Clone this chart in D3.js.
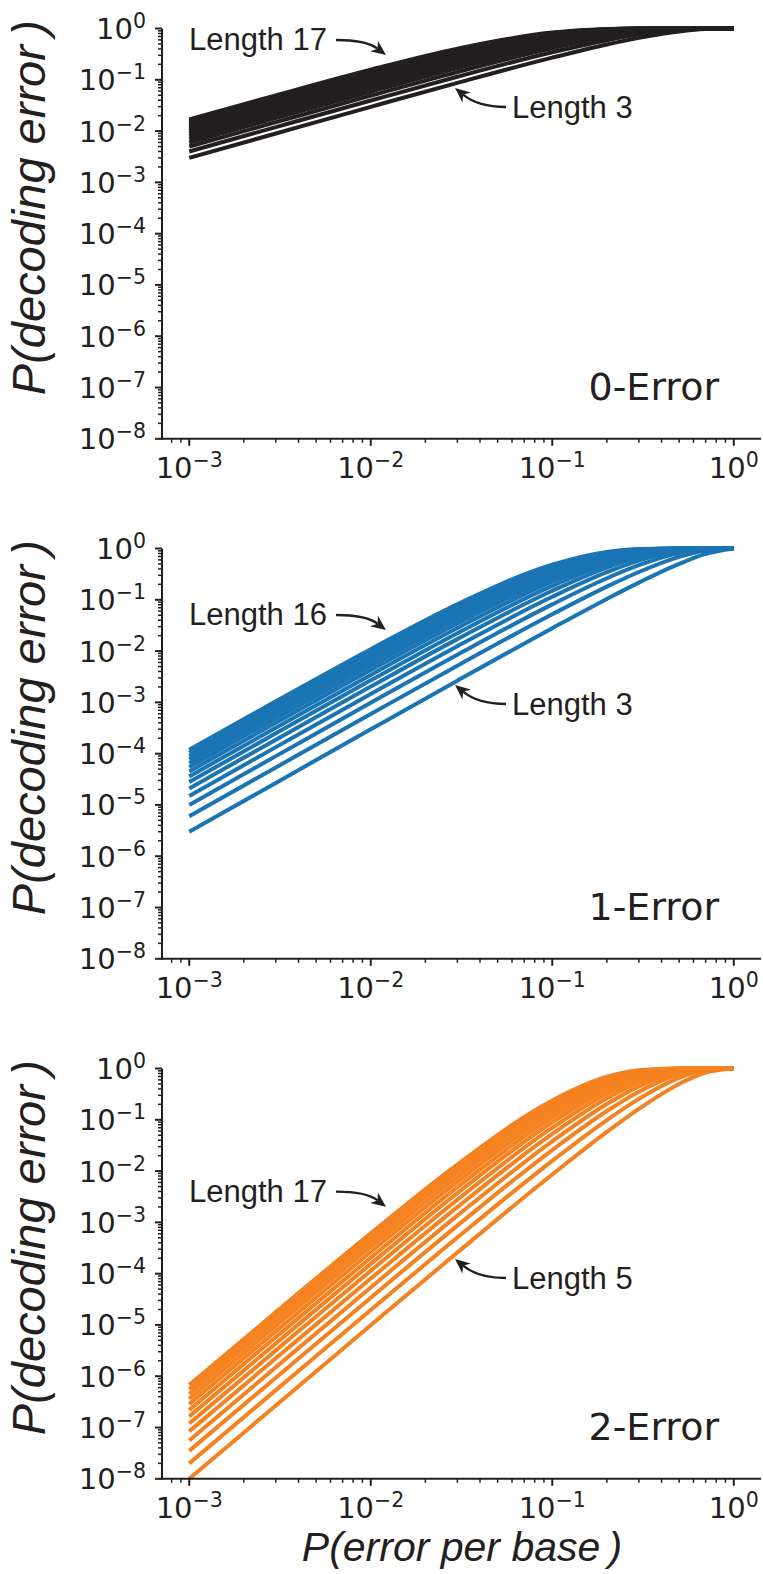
<!DOCTYPE html>
<html>
<head>
<meta charset="utf-8">
<script src="https://cdn.jsdelivr.net/npm/d3@7"></script>
<style>
  body { margin: 0; background: #fff; }
  svg { display: block; }
</style>
</head>
<body>
<script>
(function() {
    'use strict';

    // error rate per base (x samples)
    var pGrid = [0.001, 0.003, 0.01, 0.03, 0.1, 0.2, 0.3, 0.5, 0.7, 1.0];

    // 0-Error, lengths 3..17
    var lengths0 = [3, 4, 5, 6, 7, 8, 9, 10, 11, 12, 13, 14, 15, 16, 17];
    var err0 = [
        [0.0030, 0.00897, 0.0297, 0.0873, 0.271, 0.488, 0.657, 0.875, 0.973, 1],
        [0.0040, 0.01195, 0.0394, 0.1147, 0.3439, 0.5904, 0.7599, 0.9375, 0.9919, 1],
        [0.0050, 0.01491, 0.0490, 0.1413, 0.4095, 0.6723, 0.8319, 0.9688, 0.9976, 1],
        [0.0060, 0.01786, 0.0585, 0.1670, 0.4686, 0.7379, 0.8824, 0.9844, 0.9993, 1],
        [0.0070, 0.0208, 0.0679, 0.1920, 0.5217, 0.7903, 0.9176, 0.9922, 0.9998, 1],
        [0.0080, 0.0238, 0.0773, 0.2163, 0.5695, 0.8322, 0.9424, 0.9961, 0.9999, 1],
        [0.0090, 0.0267, 0.0865, 0.2398, 0.6126, 0.8658, 0.9596, 0.9980, 1, 1],
        [0.0100, 0.0296, 0.0956, 0.2626, 0.6513, 0.8926, 0.9718, 0.9990, 1, 1],
        [0.0109, 0.0325, 0.1047, 0.2847, 0.6862, 0.9141, 0.9802, 0.9995, 1, 1],
        [0.0119, 0.0354, 0.1136, 0.3062, 0.7176, 0.9313, 0.9862, 0.9998, 1, 1],
        [0.0129, 0.0383, 0.1225, 0.3270, 0.7458, 0.9450, 0.9903, 0.9999, 1, 1],
        [0.0139, 0.0412, 0.1313, 0.3472, 0.7712, 0.9560, 0.9932, 0.9999, 1, 1],
        [0.0149, 0.0441, 0.1399, 0.3667, 0.7941, 0.9648, 0.9953, 1, 1, 1],
        [0.0159, 0.0469, 0.1485, 0.3857, 0.8147, 0.9719, 0.9967, 1, 1, 1],
        [0.0169, 0.0498, 0.1571, 0.4042, 0.8332, 0.9775, 0.9977, 1, 1, 1]
    ];

    // 1-Error, lengths 3..16
    var lengths1 = [3, 4, 5, 6, 7, 8, 9, 10, 11, 12, 13, 14, 15, 16];
    var err1 = [
        [3.0e-6, 2.69e-5, 2.98e-4, 0.002646, 0.028, 0.104, 0.216, 0.5, 0.784, 1],
        [6.0e-6, 5.38e-5, 5.92e-4, 0.005186, 0.0523, 0.1808, 0.3483, 0.6875, 0.9163, 1],
        [1.0e-5, 8.95e-5, 9.80e-4, 0.008472, 0.08146, 0.26272, 0.47178, 0.8125, 0.9692, 1],
        [1.5e-5, 1.34e-4, 1.46e-3, 0.012456, 0.114265, 0.34464, 0.579825, 0.8906, 0.9891, 1],
        [2.1e-5, 1.87e-4, 2.03e-3, 0.017093, 0.149694, 0.423283, 0.670583, 0.9375, 0.9962, 1],
        [2.8e-5, 2.49e-4, 2.69e-3, 0.022341, 0.186895, 0.496684, 0.744702, 0.9648, 0.9987, 1],
        [3.6e-5, 3.19e-4, 3.43e-3, 0.028158, 0.22516, 0.563792, 0.803996, 0.9805, 0.9996, 1],
        [4.5e-5, 3.99e-4, 4.26e-3, 0.034507, 0.263902, 0.62419, 0.85069, 0.9893, 0.9999, 1],
        [5.5e-5, 4.86e-4, 5.17e-3, 0.041349, 0.302643, 0.677878, 0.887009, 0.9941, 1, 1],
        [6.55e-5, 5.82e-4, 6.16e-3, 0.04865, 0.340997, 0.725123, 0.914976, 0.9968, 1, 1],
        [7.74e-5, 6.87e-4, 7.23e-3, 0.056375, 0.378654, 0.766355, 0.936331, 0.9983, 1, 1],
        [9.02e-5, 7.99e-4, 8.37e-3, 0.064493, 0.41537, 0.802087, 0.952524, 0.9991, 1, 1],
        [1.04e-4, 9.20e-4, 9.59e-3, 0.072973, 0.450957, 0.832876, 0.964733, 0.9995, 1, 1],
        [1.19e-4, 1.05e-3, 1.09e-2, 0.081786, 0.485272, 0.859264, 0.973887, 0.9997, 1, 1]
    ];

    // 2-Error, lengths 5..17
    var lengths2 = [5, 6, 7, 8, 9, 10, 11, 12, 13, 14, 15, 16, 17];
    var err2 = [
        [1.0e-8, 2.69e-7, 9.85e-6, 0.000258, 0.00856, 0.05792, 0.16308, 0.5, 0.83692, 1],
        [2.0e-8, 5.36e-7, 1.955e-5, 0.000505, 0.01585, 0.09888, 0.25569, 0.65625, 0.92953, 1],
        [3.5e-8, 9.37e-7, 3.40e-5, 0.000863, 0.025691, 0.148032, 0.352931, 0.7734, 0.9712, 1],
        [5.6e-8, 1.495e-6, 5.39e-5, 0.00135, 0.038092, 0.203083, 0.448227, 0.8555, 0.9887, 1],
        [8.4e-8, 2.237e-6, 8.02e-5, 0.001979, 0.052973, 0.261802, 0.537169, 0.9102, 0.9957, 1],
        [1.2e-7, 3.19e-6, 1.137e-4, 0.002765, 0.070192, 0.3222, 0.617216, 0.9453, 0.9984, 1],
        [1.65e-7, 4.375e-6, 1.551e-4, 0.003718, 0.089562, 0.382598, 0.687257, 0.9673, 0.9994, 1],
        [2.2e-7, 5.82e-6, 2.05e-4, 0.004847, 0.11087, 0.441656, 0.747183, 0.9807, 0.9998, 1],
        [2.86e-7, 7.55e-6, 2.646e-4, 0.006161, 0.133881, 0.49835, 0.797525, 0.9888, 0.9999, 1],
        [3.64e-7, 9.585e-6, 3.34e-4, 0.007667, 0.158359, 0.55195, 0.839166, 0.9935, 1, 1],
        [4.55e-7, 1.195e-5, 4.14e-4, 0.009372, 0.184061, 0.601977, 0.873172, 0.9963, 1, 1],
        [5.55e-7, 1.468e-5, 5.08e-4, 0.01128, 0.21075, 0.64816, 0.900641, 0.9979, 1, 1],
        [6.73e-7, 1.778e-5, 6.12e-4, 0.013394, 0.238203, 0.690381, 0.922612, 0.9988, 1, 1]
    ];

    var yTickExp = [0, -1, -2, -3, -4, -5, -6, -7, -8];
    var xTickExp = [-3, -2, -1, 0];
    var titles = ["0-Error", "1-Error", "2-Error"];
    var topLabels = ["Length 17", "Length 16", "Length 17"];
    var lowLabels = ["Length 3", "Length 3", "Length 5"];

    var ink = "#231f20";
    var colors = [ink, "#1b75b4", "#f58220"];
    var panels = [err0, err1, err2];

    var w = 763;
    var h = 1574;
    var svg = d3.select("body")
                .append("svg")
                .attr("width", w)
                .attr("height", h);

    var x = d3.scaleLog()
              .domain([Math.pow(10, -3.15), Math.pow(10, 0.15)])
              .range([162, 761]);

    var minus = "\u2212";

    function powLabel(sel, e) {
        sel.append("tspan").text("10");
        sel.append("tspan")
           .attr("font-size", 20.5)
           .attr("dy", -11)
           .text(e < 0 ? minus + (-e) : String(e));
    }

    function drawArrow(g, x0, y0, cx, cy, x1, y1) {
        var ang = Math.atan2(y1 - cy, x1 - cx);
        var len = 15, half = 6.5, notch = 10.5;
        var ux = Math.cos(ang), uy = Math.sin(ang);
        var bx = x1 - ux * notch, by = y1 - uy * notch;
        g.append("path")
         .attr("d", "M" + x0 + "," + y0 + " Q" + cx + "," + cy + " " + bx + "," + by)
         .attr("fill", "none")
         .attr("stroke", ink)
         .attr("stroke-width", 2.3);
        var lx = x1 - ux * len, ly = y1 - uy * len;
        var pts = [
            [x1, y1],
            [lx - uy * half, ly + ux * half],
            [bx, by],
            [lx + uy * half, ly - ux * half]
        ];
        g.append("path")
         .attr("d", "M" + pts.map(function(p) { return p.join(","); }).join("L") + "Z")
         .attr("fill", ink);
    }

    var panelTop = 28.5;
    var panelBottom = 438.8;
    var step = 520;

    panels.forEach(function(data, k) {
        var off = k * step;
        var y = d3.scaleLog()
                  .domain([1e-8, 1])
                  .range([panelBottom + off, panelTop + off]);
        var g = svg.append("g");

        var line = d3.line()
                     .x(function(d) { return x(d[0]); })
                     .y(function(d) { return y(d[1]); })
                     .curve(d3.curveMonotoneX);

        g.selectAll("path.curve")
         .data(data)
         .enter()
         .append("path")
         .attr("class", "curve")
         .attr("d", function(vals) {
             return line(vals.map(function(v, i) { return [pGrid[i], v]; }));
         })
         .attr("fill", "none")
         .attr("stroke", colors[k])
         .attr("stroke-width", 4)
         .attr("stroke-linejoin", "round");

        // y axis
        var yMinor = [];
        for (var e = -8; e < 0; e++) {
            for (var m = 2; m <= 9; m++) {
                yMinor.push(m * Math.pow(10, e));
            }
        }
        g.selectAll("line.ymin")
         .data(yMinor)
         .enter()
         .append("line")
         .attr("x1", 162).attr("x2", 158)
         .attr("y1", function(d) { return y(d); })
         .attr("y2", function(d) { return y(d); })
         .attr("stroke", ink)
         .attr("stroke-width", 1.5);
        g.selectAll("line.ymaj")
         .data(yTickExp)
         .enter()
         .append("line")
         .attr("x1", 162).attr("x2", 155)
         .attr("y1", function(d) { return y(Math.pow(10, d)); })
         .attr("y2", function(d) { return y(Math.pow(10, d)); })
         .attr("stroke", ink)
         .attr("stroke-width", 2);
        g.selectAll("text.ylab")
         .data(yTickExp)
         .enter()
         .append("text")
         .attr("x", 146)
         .attr("y", function(d) { return y(Math.pow(10, d)) + 10.5; })
         .attr("text-anchor", "end")
         .attr("font-family", "DejaVu Sans")
         .attr("font-size", 29)
         .attr("fill", ink)
         .each(function(d) { powLabel(d3.select(this), d); });

        // x axis
        var xMinor = [];
        [-4, -3, -2, -1].forEach(function(e) {
            for (var m = 2; m <= 9; m++) {
                var v = m * Math.pow(10, e);
                if (v >= x.domain()[0] && v <= x.domain()[1]) xMinor.push(v);
            }
        });
        var yb = panelBottom + off;
        g.selectAll("line.xmin")
         .data(xMinor)
         .enter()
         .append("line")
         .attr("x1", function(d) { return x(d); })
         .attr("x2", function(d) { return x(d); })
         .attr("y1", yb).attr("y2", yb + 4)
         .attr("stroke", ink)
         .attr("stroke-width", 1.5);
        g.selectAll("line.xmaj")
         .data(xTickExp)
         .enter()
         .append("line")
         .attr("x1", function(d) { return x(Math.pow(10, d)); })
         .attr("x2", function(d) { return x(Math.pow(10, d)); })
         .attr("y1", yb).attr("y2", yb + 7)
         .attr("stroke", ink)
         .attr("stroke-width", 2);
        g.selectAll("text.xlab")
         .data(xTickExp)
         .enter()
         .append("text")
         .attr("x", function(d) { return x(Math.pow(10, d)); })
         .attr("y", yb + 39)
         .attr("text-anchor", "middle")
         .attr("font-family", "DejaVu Sans")
         .attr("font-size", 29)
         .attr("fill", ink)
         .each(function(d) { powLabel(d3.select(this), d); });

        // spines
        g.append("line")
         .attr("x1", 162).attr("x2", 162)
         .attr("y1", panelTop + off).attr("y2", yb + 1)
         .attr("stroke", ink).attr("stroke-width", 2);
        g.append("line")
         .attr("x1", 161).attr("x2", 761)
         .attr("y1", yb).attr("y2", yb)
         .attr("stroke", ink).attr("stroke-width", 2);

        // y label
        g.append("text")
         .attr("transform", "translate(45," + ((panelTop + panelBottom) / 2 + off - 26) + ") rotate(-90)")
         .attr("text-anchor", "middle")
         .attr("font-family", "Liberation Sans, Arial, sans-serif")
         .attr("font-style", "italic")
         .attr("font-size", 47)
         .attr("fill", ink)
         .text("P(decoding error\u2009)");

        // panel title
        g.append("text")
         .attr("x", 719)
         .attr("y", 400 + off)
         .attr("text-anchor", "end")
         .attr("font-family", "DejaVu Sans")
         .attr("font-size", 38)
         .attr("fill", ink)
         .text(titles[k]);

        // annotations
        var topBase = [50, 625, 1201.7][k];
        var lowBase = [118, 715, 1289][k];
        g.append("text")
         .attr("x", 189)
         .attr("y", topBase)
         .attr("font-family", "Liberation Sans, Arial, sans-serif")
         .attr("font-size", 31)
         .attr("fill", ink)
         .text(topLabels[k]);
        g.append("text")
         .attr("x", 512)
         .attr("y", lowBase)
         .attr("font-family", "Liberation Sans, Arial, sans-serif")
         .attr("font-size", 31)
         .attr("fill", ink)
         .text(lowLabels[k]);

        var ty = topBase - 10;
        drawArrow(g, 336, ty, 366, ty, 386, ty + 15);
        var ly = lowBase - 11;
        drawArrow(g, 506, ly, 478, ly, 455, ly - 19);
    });

    // x label
    svg.append("text")
       .attr("x", 462)
       .attr("y", 1561)
       .attr("text-anchor", "middle")
       .attr("font-family", "Liberation Sans, Arial, sans-serif")
       .attr("font-style", "italic")
       .attr("font-size", 41)
       .attr("fill", ink)
       .text("P(error per base\u2009)");
}());
</script>
</body>
</html>
